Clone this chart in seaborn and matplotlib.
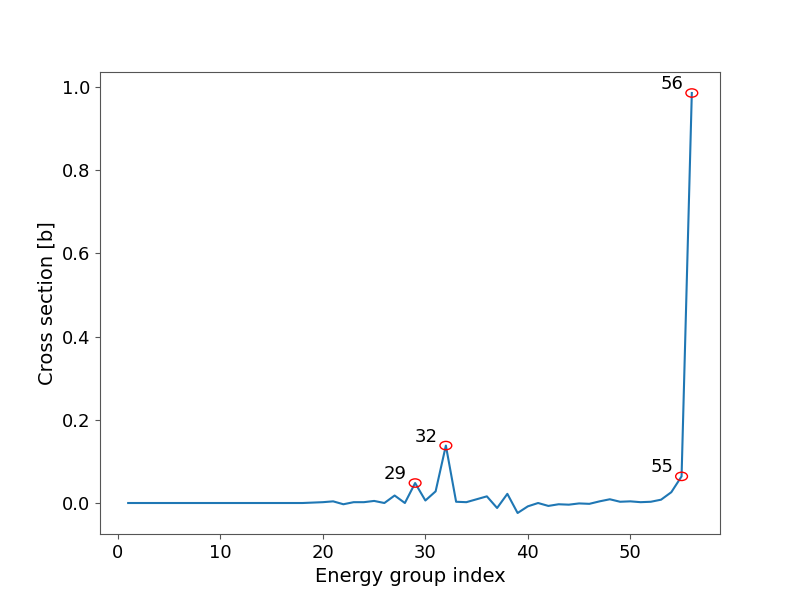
import matplotlib
matplotlib.use("Agg")
import matplotlib.pyplot as plt
from matplotlib.patches import Ellipse
import seaborn as sns
import pandas as pd
import numpy as np

groups = list(range(1, 57))
cross_section = [
    0.0, 0.0, 0.0, 0.0, 0.0, 0.0, 0.0, 0.0, 0.0, 0.0,
    0.0, 0.0, 0.0, 0.0, 0.0, 0.0, 0.0, 0.0, 0.001, 0.002,
    0.004, -0.003, 0.002, 0.002, 0.005, 0.0, 0.018, 0.0, 0.048, 0.006,
    0.028, 0.138, 0.003, 0.002, 0.009, 0.016, -0.012, 0.022, -0.024, -0.008,
    0.0, -0.007, -0.003, -0.004, -0.001, -0.002, 0.004, 0.009, 0.003, 0.004,
    0.002, 0.003, 0.008, 0.026, 0.064, 0.985,
]
highlight = [29, 32, 55, 56]
labels = ["29", "32", "55", "56"]

df = pd.DataFrame({"group": groups, "xs": cross_section})
hl = df[df["group"].isin(highlight)]

plt.rcParams["axes.edgecolor"] = "#555555"
plt.rcParams["xtick.color"] = "#555555"
plt.rcParams["ytick.color"] = "#555555"
plt.rcParams["xtick.labelcolor"] = "black"
plt.rcParams["ytick.labelcolor"] = "black"
plt.rcParams["font.size"] = 13

fig, ax = plt.subplots(figsize=(8, 6), dpi=100)
sns.lineplot(data=df, x="group", y="xs", ax=ax, color="#1f77b4", linewidth=1.5)
for (_, row), lab in zip(hl.iterrows(), labels):
    ax.add_patch(Ellipse((row["group"], row["xs"]), width=1.15, height=0.02,
                         facecolor="none", edgecolor="red", linewidth=1, zorder=3))
    ax.annotate(lab, (row["group"], row["xs"]), xytext=(-6, 0), textcoords="offset points",
                ha="right", va="bottom", fontsize=13)

ax.set_xlabel("Energy group index", fontsize=14)
ax.set_ylabel("Cross section [b]", fontsize=14)
ax.tick_params(labelsize=13)
fig.savefig("out.png", dpi=100)
